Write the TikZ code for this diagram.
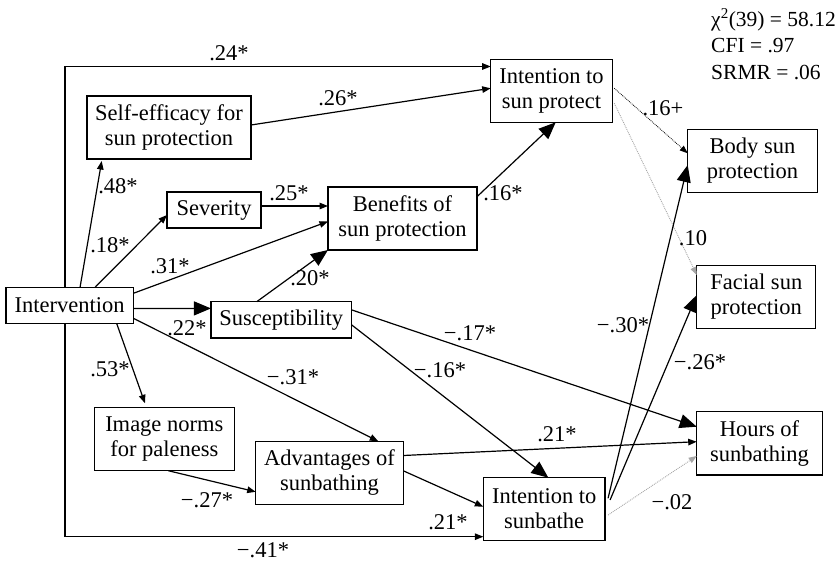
\documentclass[tikz,border=0pt]{standalone}
\usepackage{fontspec}
\setmainfont{Liberation Serif}
\usetikzlibrary{arrows.meta,calc}
\begin{document}
\begin{tikzpicture}[x=1pt,y=-1pt,
  box/.style={draw, line width=1.2pt, inner sep=0pt, outer sep=0pt, align=center, font=\fontsize{22.5}{25}\selectfont},
  lbl/.style={inner sep=0pt, font=\fontsize{22.5}{25}\selectfont},
  fit/.style={inner sep=0pt, anchor=base west, font=\fontsize{21.5}{27}\selectfont},
  conn/.style={line width=1.2pt},
  sm/.style={conn, -{Triangle[length=8.5pt,width=6.5pt]}},
  bg/.style={conn, -{Triangle[length=17pt,width=14pt]}},
  dotblack/.style={line width=0.8pt, densely dotted, -{Triangle[length=8pt,width=6pt]}},
  dotgray/.style={line width=0.9pt, densely dotted, gray!70, -{Triangle[length=8pt,width=6pt]}}
]
\useasboundingbox (0,0) rectangle (837,561);

% nodes
\node[box, minimum width=164pt, minimum height=63pt] (selfeff) at (169,127.5) {Self-efficacy for\\sun protection};
\node[box, minimum width=94pt, minimum height=36pt] (severity) at (214,210) {Severity};
\node[box, minimum width=149pt, minimum height=63pt] (benefits) at (402.5,218.5) {Benefits of\\sun protection};
\node[box, minimum width=121.6pt, minimum height=63pt] (intprot) at (551.5,90.8) {Intention to\\sun protect};
\node[box, minimum width=129.6pt, minimum height=63.7pt] (body) at (752.5,161) {Body sun\\protection};
\node[box, minimum width=119pt, minimum height=63pt] (facial) at (756.3,296.7) {Facial sun\\protection};
\node[box, minimum width=125.6pt, minimum height=63.3pt] (hours) at (759.5,443.3) {Hours of\\sunbathing};
\node[box, minimum width=121.7pt, minimum height=62.6pt] (intbathe) at (544.2,509) {Intention to\\sunbathe};
\node[box, minimum width=127.3pt, minimum height=36.4pt] (interv) at (69.7,305.5) {Intervention};
\node[box, minimum width=140.7pt, minimum height=36.3pt] (suscept) at (281.3,319.9) {Susceptibility};
\node[box, minimum width=140pt, minimum height=63.4pt] (image) at (164.3,439) {Image norms\\for paleness};
\node[box, minimum width=147.6pt, minimum height=63pt] (advant) at (329.5,472.8) {Advantages of\\sunbathing};

% connectors
\draw[sm] ($(interv.north west)+(59,0)$) |- ($(intprot.west)+(0,-24.3)$);
\draw[sm] ($(interv.south west)+(59,0)$) |- ($(intbathe.west)+(0,27.7)$);
\draw[sm] ($(interv.north west)+(74,0)$) -- ($(selfeff.south west)+(14.7,2)$);
\draw[sm] ($(interv.north west)+(89,0)$) -- ($(severity.west)+(0,5)$);
\draw[sm] ($(interv.north east)+(0,6)$) -- ($(benefits.west)+(0,3)$);
\draw[sm] ($(severity.east)+(0,-4)$) -- ($(benefits.west)+(0,-12.5)$);
\draw[bg] ($(suscept.north west)+(45.7,0)$) -- (benefits.south west);
\draw[bg] ($(interv.east)+(0,3)$) -- ($(suscept.west)+(0,-11.5)$);
\draw[sm] ($(interv.south west)+(110.7,0)$) -- ($(image.north west)+(50.7,-4)$);
\draw[sm] ($(interv.south east)+(0,-5.4)$) -- ($(advant.north west)+(122.6,0)$);
\draw[sm] ($(image.south west)+(74,0)$) -- ($(advant.west)+(0,19)$);
\draw[sm] ($(selfeff.east)+(0,-2.5)$) -- ($(intprot.west)+(0,-2.5)$);
\draw[bg] ($(benefits.north east)+(0,9.7)$) -- ($(intprot.south west)+(65,0)$);
\draw[dotblack] ($(intprot.east)+(2,-2.5)$) -- ($(body.west)+(0,-7.7)$);
\draw[dotgray] ($(intprot.east)+(2,12.5)$) -- ($(facial.west)+(0,-21.7)$);
\draw[bg] ($(intbathe.east)+(3,-10.7)$) -- ($(body.west)+(0,4)$);
\draw[bg] ($(intbathe.east)+(5,-9)$) -- ($(facial.west)+(0,-1.7)$);
\draw[dotgray] ($(intbathe.east)+(3,6)$) -- ($(hours.west)+(0,12.7)$);
\draw[bg] ($(suscept.east)+(0,-10)$) -- ($(hours.west)+(0,-16.6)$);
\draw[bg] ($(suscept.east)+(0,5)$) -- ($(intbathe.north west)+(65,0)$);
\draw[sm] ($(advant.east)+(0,-17.3)$) -- ($(hours.west)+(0,-1.6)$);
\draw[sm] ($(advant.east)+(0,-2)$) -- ($(intbathe.west)+(0,-2.3)$);

% labels
\node[lbl] (l24) at (229,53) {.24*};
\node[lbl] (l26) at (338,98) {.26*};
\node[lbl] (l48) at (118,186) {.48*};
\node[lbl] (l18) at (110,245) {.18*};
\node[lbl] (l25) at (289,193) {.25*};
\node[lbl] (l31) at (170,266) {.31*};
\node[lbl] (l20) at (310,278) {.20*};
\node[lbl] (l16a) at (503,193) {.16*};
\node[lbl] (l16p) at (663,108) {.16+};
\node[lbl] (l10) at (693,238) {.10};
\node[lbl] (l22) at (187,328) {.22*};
\node[lbl] (l53) at (110,369) {.53*};
\node[lbl] (lm31) at (293,377) {−.31*};
\node[lbl] (lm17) at (470,333) {−.17*};
\node[lbl] (lm16) at (440,370) {−.16*};
\node[lbl] (lm30) at (623,325) {−.30*};
\node[lbl] (lm26) at (700,362) {−.26*};
\node[lbl] (l21a) at (557,434) {.21*};
\node[lbl] (lm27) at (207,500) {−.27*};
\node[lbl] (l21b) at (448,522) {.21*};
\node[lbl] (lm02) at (672,502) {−.02};
\node[lbl] (lm41) at (263,550) {−.41*};

% fit statistics
\node[fit] (chi) at (711,26.5) {χ\textsuperscript{2}(39) = 58.12};
\node[fit] (cfi) at (711,53) {CFI = .97};
\node[fit] (srmr) at (711,80) {SRMR = .06};
\end{tikzpicture}
\end{document}
